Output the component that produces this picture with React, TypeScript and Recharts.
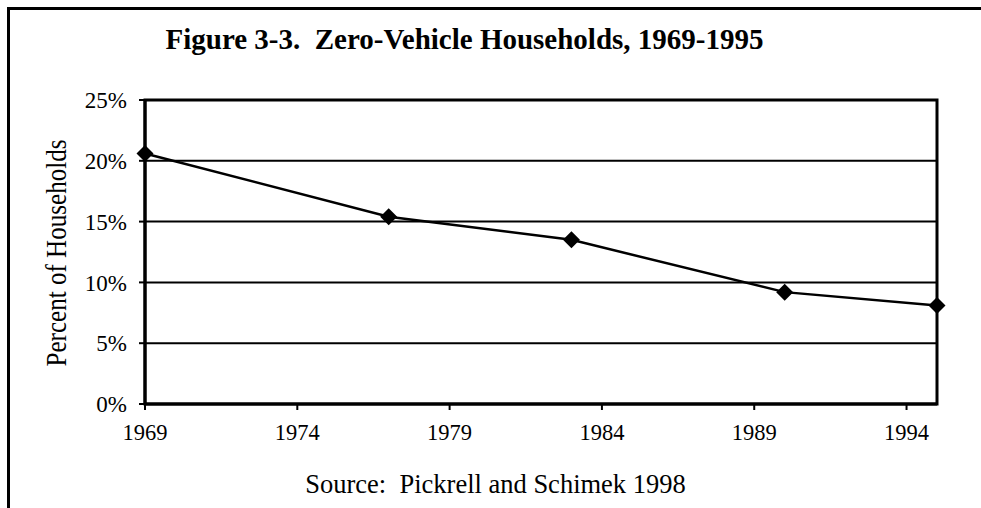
import {
  LineChart,
  Line,
  XAxis,
  YAxis,
  CartesianGrid,
  ReferenceArea,
} from 'recharts'

// Survey years and share of households with no vehicle (%)
const years = [1969, 1977, 1983, 1990, 1995]
const zeroVehicleShare = [20.6, 15.4, 13.5, 9.2, 8.1]
const xTicks = [1969, 1974, 1979, 1984, 1989, 1994]
const yTicks = [0, 5, 10, 15, 20, 25]

const data = years.map((year, i) => ({ year, share: zeroVehicleShare[i] }))

const FONT = '"Liberation Serif", "Times New Roman", serif'

// diamond marker like the old Excel default
function Diamond(props: any) {
  const { cx, cy } = props
  if (cx == null || cy == null) return null
  const r = 8.5
  return (
    <polygon
      points={`${cx},${cy - r} ${cx + r},${cy} ${cx},${cy + r} ${cx - r},${cy}`}
      fill="#000"
    />
  )
}

export default function App() {
  return (
    <div
      style={{
        position: 'relative',
        width: 981,
        height: 508,
        overflow: 'hidden',
        background: '#fff',
      }}
    >
      <style>{'html,body{margin:0;padding:0;overflow:hidden}'}</style>
      {/* outer frame, right and bottom fall outside the picture */}
      <div
        style={{
          position: 'absolute',
          left: 7,
          top: 7,
          width: 990,
          height: 520,
          borderLeft: '3px solid #000',
          borderTop: '3px solid #000',
          boxSizing: 'border-box',
          pointerEvents: 'none',
        }}
      />
      <div
        style={{
          position: 'absolute',
          left: 8,
          width: 913,
          top: 22,
          textAlign: 'center',
          fontFamily: FONT,
          fontWeight: 'bold',
          fontSize: 29,
          lineHeight: '34px',
          whiteSpace: 'pre',
          color: '#000',
        }}
      >
        {'Figure 3-3.  Zero-Vehicle Households, 1969-1995'}
      </div>

      <LineChart
        width={973}
        height={500}
        data={data}
        margin={{ top: 92, right: 44, left: 0, bottom: 54 }}
        style={{ position: 'absolute', left: 8, top: 8 }}
      >
        <CartesianGrid vertical={false} stroke="#000" strokeWidth={2} horizontalValues={[5, 10, 15, 20]} />
        <XAxis
          dataKey="year"
          type="number"
          domain={[1969, 1995]}
          ticks={xTicks}
          interval={0}
          height={50}
          tickSize={6}
          tickMargin={14}
          axisLine={{ stroke: '#000', strokeWidth: 3 }}
          tickLine={{ stroke: '#000', strokeWidth: 2 }}
          tick={{ fill: '#000', fontSize: 22.5, fontFamily: FONT }}
        />
        <YAxis
          type="number"
          domain={[0, 25]}
          ticks={yTicks}
          interval={0}
          width={137}
          tickSize={6}
          tickMargin={12}
          tickFormatter={(v) => `${v}%`}
          axisLine={{ stroke: '#000', strokeWidth: 3 }}
          tickLine={{ stroke: '#000', strokeWidth: 2 }}
          tick={{ fill: '#000', fontSize: 23, fontFamily: FONT }}
        />
        <ReferenceArea x1={1969} x2={1995} y1={0} y2={25} fill="none" stroke="#000" strokeWidth={3} />
        <Line
          dataKey="share"
          stroke="#000"
          strokeWidth={2.5}
          dot={<Diamond />}
          activeDot={false}
          isAnimationActive={false}
        />
      </LineChart>

      {/* compressed vertical axis title */}
      <svg
        width={110}
        height={508}
        style={{ position: 'absolute', left: 0, top: 0, pointerEvents: 'none' }}
      >
        <text
          transform="translate(66,253) rotate(-90)"
          textAnchor="middle"
          fontFamily={FONT}
          fontSize={29}
          textLength={227}
          lengthAdjust="spacingAndGlyphs"
          fill="#000"
        >
          Percent of Households
        </text>
      </svg>

      <div
        style={{
          position: 'absolute',
          left: 8,
          width: 975,
          top: 468,
          textAlign: 'center',
          fontFamily: FONT,
          fontSize: 26.5,
          lineHeight: '32px',
          whiteSpace: 'pre',
          color: '#000',
        }}
      >
        {'Source:  Pickrell and Schimek 1998'}
      </div>
    </div>
  )
}
